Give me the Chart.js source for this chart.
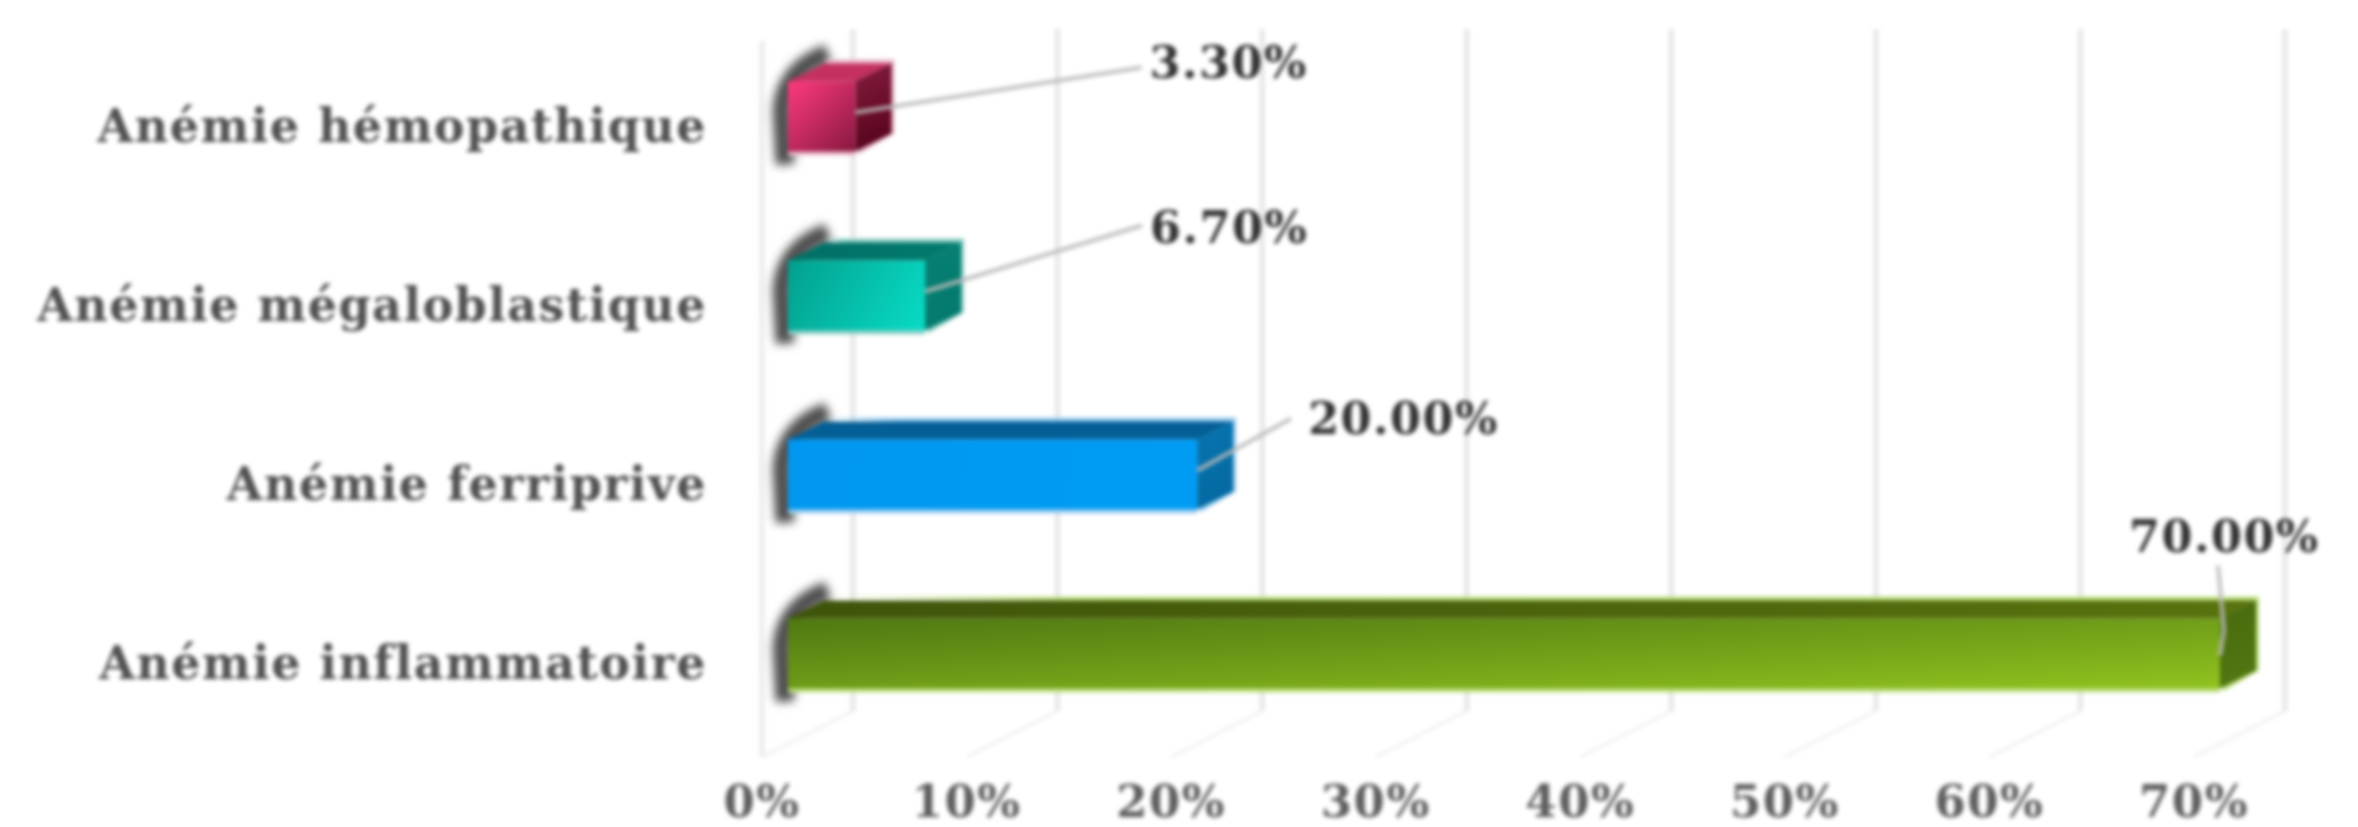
<!DOCTYPE html>
<html><head><meta charset="utf-8">
<style>html,body{margin:0;padding:0;background:#fff}#w{position:relative;width:2358px;height:827px}canvas{filter:blur(1.9px)}</style>
<script src="https://cdn.jsdelivr.net/npm/chart.js@4"></script></head>
<body><div id="w"><canvas id="c" width="2358" height="827"></canvas></div>
<script>
const categories = ["Anémie hémopathique","Anémie mégaloblastique","Anémie ferriprive","Anémie inflammatoire"];
const values = [3.3,6.7,20,70];
const tickStep = 10;
const axisMax = 70;

const faceStart = ["#ff3a80","#02a08e","#0098f0","#4f7812"];
const faceEnd = ["#86183e","#08dcc6","#009cf4","#98cc20"];
const topStart = ["#c4315f","#026f66","#045f96","#3f540a"];
const topEnd = ["#c4315f","#02786c","#045f96","#58720f"];
const sideStart = ["#7c1838","#067f72","#0672ae","#4a6c0e"];
const sideEnd = ["#520018","#04786c","#05679e","#527812"];
const paleEdge = ["#e9b6c8","#8fcfc6","#9ccdf0","#bddf80"];
// leader-line end offsets from the bar's value end, and label gap
const leaderEnd = [[286,-49],[217,-70],[94,-56],[-2,-88]];
const labelDx = [8,8,17,-89];
const labelDy = [-1,6,4,-25];

const PLANE = [26,-14], BAR = [36,-18], WALL = [91,-46];
const serif = '"DejaVu Serif","Liberation Serif",serif';
const noPad = s => { s.paddingTop=s.paddingBottom=s.paddingLeft=s.paddingRight=0; };

const threeD = {
  id:'threeD',
  beforeDraw(ch){
    const c = ch.ctx, {x} = ch.scales, a = ch.chartArea;
    c.letterSpacing = '1.5px';
    c.save();
    c.lineCap='butt';
    x.ticks.forEach(t=>{
      const px = x.getPixelForValue(t.value);
      c.strokeStyle='#f0f0f0'; c.lineWidth=3;
      c.beginPath(); c.moveTo(px,a.bottom); c.lineTo(px+WALL[0],a.bottom+WALL[1]); c.stroke();
      c.strokeStyle='#e6e6e6'; c.lineWidth=5;
      c.beginPath(); c.moveTo(px+WALL[0],a.bottom+WALL[1]); c.lineTo(px+WALL[0],29); c.stroke();
    });
    const p0 = x.getPixelForValue(0);
    c.strokeStyle='#ececec'; c.lineWidth=5;
    c.beginPath(); c.moveTo(p0,a.top); c.lineTo(p0,a.bottom); c.stroke();
    c.restore();
  },
  beforeDatasetsDraw(ch){
    const c = ch.ctx, m = ch.getDatasetMeta(0);
    c.save();
    c.translate(PLANE[0],PLANE[1]);
    m.data.forEach((b,i)=>{
      const t=b.y-b.height/2, bt=b.y+b.height/2, l=b.base, r=b.x;
      // soft shadow round the rear-left corner
      c.save();
      c.filter='blur(4px)';
      c.strokeStyle='#4e4e4e'; c.lineWidth=19; c.lineCap='butt';
      c.beginPath(); c.moveTo(l-3,bt+13); c.lineTo(l-6,t+28);
      c.quadraticCurveTo(l-3,t-12,l+40,t-28); c.stroke();
      c.restore();
      // pale edges
      c.fillStyle=paleEdge[i];
      c.fillRect(l,bt,r-l,4);
      c.beginPath(); c.moveTo(l+BAR[0],t+BAR[1]-4); c.lineTo(r+BAR[0]+3,t+BAR[1]-4);
      c.lineTo(r+BAR[0]+3,bt+BAR[1]); c.lineTo(r+3,bt+3); c.lineTo(r,t); c.closePath(); c.fill();
      // top face
      const gt=c.createLinearGradient(l,0,r,0);
      gt.addColorStop(0,topStart[i]); gt.addColorStop(1,topEnd[i]);
      c.fillStyle=gt;
      c.beginPath(); c.moveTo(l,t); c.lineTo(l+BAR[0],t+BAR[1]); c.lineTo(r+BAR[0],t+BAR[1]); c.lineTo(r,t); c.closePath(); c.fill();
      // side face
      const g=c.createLinearGradient(r,t,r+BAR[0],bt);
      g.addColorStop(0,sideStart[i]); g.addColorStop(1,sideEnd[i]);
      c.fillStyle=g;
      c.beginPath(); c.moveTo(r,t); c.lineTo(r+BAR[0],t+BAR[1]); c.lineTo(r+BAR[0],bt+BAR[1]); c.lineTo(r,bt); c.closePath(); c.fill();
    });
    // leave translated: the library's own bars (front faces) follow in the same plane
  },
  afterDatasetsDraw(ch){
    const c = ch.ctx, m = ch.getDatasetMeta(0);
    m.data.forEach((b,i)=>{
      const ex=b.x+leaderEnd[i][0], ey=b.y+leaderEnd[i][1];
      c.strokeStyle='rgba(185,185,185,.9)'; c.lineWidth=4;
      c.beginPath(); c.moveTo(b.x,b.y-(i===3?-2:4));
      if(i===3) c.lineTo(b.x+4,b.y-23);
      c.lineTo(ex,ey); c.stroke();
      c.fillStyle='#333333'; c.font='bold 44.5px '+serif;
      c.textAlign='left'; c.textBaseline='middle';
      c.fillText(values[i].toFixed(2)+'%',ex+labelDx[i],ey+labelDy[i]);
    });
    c.restore();
  }
};

new Chart(document.getElementById('c'),{
  type:'bar',
  data:{labels:categories,datasets:[{
    data:values,
    clip:false,
    borderWidth:0,
    backgroundColor(ctx){
      const ch=ctx.chart,i=ctx.dataIndex;
      if(i===undefined||!ch.chartArea) return faceStart[0];
      const l=ch.scales.x.getPixelForValue(0), r=ch.scales.x.getPixelForValue(values[i]);
      const cy=ch.scales.y.getPixelForValue(i), h=35;
      const g = i===3 ? ch.ctx.createLinearGradient(l,cy-h,l+8,cy-h+159)
                      : ch.ctx.createLinearGradient(l,cy-h,r,cy+h);
      g.addColorStop(0,faceStart[i]); g.addColorStop(1,faceEnd[i]);
      return g;
    }
  }]},
  plugins:[threeD],
  options:{
    indexAxis:'y',responsive:false,animation:false,devicePixelRatio:1,
    barPercentage:.39,categoryPercentage:1,
    layout:{autoPadding:false,padding:{top:41,right:164,bottom:0,left:0}},
    plugins:{legend:{display:false},tooltip:{enabled:false},title:{display:false}},
    scales:{
      x:{min:0,max:axisMax,
        grid:{display:false},border:{display:false},
        afterFit(s){s.height=70;noPad(s);},
        ticks:{stepSize:tickStep,maxRotation:0,autoSkip:false,padding:13,color:'#5e5e5e',
          font:{family:serif,size:45,weight:'bold'},callback:v=>v+'%'}},
      y:{grid:{display:false},border:{display:false},
        afterFit(s){s.width=762;noPad(s);},
        ticks:{padding:47,color:'#505050',autoSkip:false,font:{family:serif,size:46,weight:'bold'}}}
    }
  }
});
</script></body></html>
